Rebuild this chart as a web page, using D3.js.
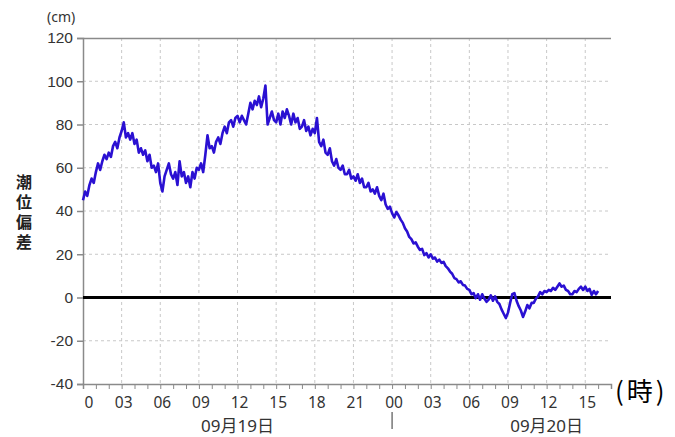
<!DOCTYPE html>
<html>
<head>
<meta charset="utf-8">
<script src="https://cdn.jsdelivr.net/npm/d3@7"></script>
<style>
  html, body { margin: 0; padding: 0; background: #fff; }
  svg { display: block; font-family: "Noto Sans", "Noto Sans CJK JP", sans-serif; }
</style>
</head>
<body>
<svg id="chart" width="675" height="437"></svg>
<script>
// Tide anomaly (cm), 10-minute samples starting 09/19 00:00
const startHour = 0;
const stepMinutes = 10;
const anomaly = [
  45, 49, 47, 52, 55, 53,
  58, 62, 59, 63, 66, 64,
  67, 65, 70, 72, 69, 74,
  77, 81, 74, 76, 73, 76,
  71, 73, 67, 69, 66, 68,
  63, 66, 60, 61, 58, 62,
  53, 49, 56, 59, 62, 57,
  55, 58, 52, 63, 56, 58,
  53, 56, 51, 58, 55, 60,
  59, 62, 58, 66, 75, 69,
  70, 67, 72, 74, 71, 76,
  79, 76, 81, 82, 79, 83,
  84, 81, 84, 82, 80, 85,
  90, 87, 91, 89, 93, 88,
  92, 98, 80, 83, 86, 82,
  81, 85, 80, 86, 83, 87,
  84, 80, 85, 81, 83, 78,
  79, 82, 77, 79, 75, 78,
  76, 83, 72, 70, 73, 67,
  66, 69, 63, 61, 64, 60,
  59, 61, 57, 57, 59, 55,
  56, 54, 57, 53, 55, 51,
  51, 53, 49, 50, 48, 51,
  47, 45, 48, 43, 41, 42,
  39, 37, 39.5, 38, 36, 34.5,
  32, 30.5, 28, 27, 25, 25.5,
  23.5, 22, 22.5, 19.6, 20.5, 18.5,
  20, 18, 18.5, 16.6, 17.5, 16,
  16.5, 14.5, 13.5, 12, 11, 9,
  8.5, 7, 7.5, 5.8, 5.5, 4,
  3.5, 1.5, 2, -0.3, 1.5, -1,
  1.5, -0.5, -2, -1, 1, -1.5,
  0.5, -2, -3, -5.5, -7.5, -9.5,
  -7, -2.5, 1.5, 2, -1.5, -4,
  -6, -9, -6.5, -3.5, -5, -2.5,
  -2.5, -0.5, 0.5, 2.5, 1.5, 3,
  2.5, 3.5, 3, 4.5, 3.5, 5,
  6.5, 5, 5.5, 3.5, 3, 1.5,
  1.5, 3, 2.5, 4, 5, 3.5,
  5, 3, 4, 1.2, 3, 1.5,
  3
];

const yTicks = [-40, -20, 0, 20, 40, 60, 80, 100, 120];
const hourTicks = [0, 3, 6, 9, 12, 15, 18, 21, 24, 27, 30, 33, 36, 39];
const hourLabels = ["0", "03", "06", "09", "12", "15", "18", "21", "00", "03", "06", "09", "12", "15"];
const dayLabels = [{ hour: 12, text: "09月19日" }, { hour: 36, text: "09月20日" }];
const dayBreaks = [24];
const hourDomain = [0, 41];

const svg = d3.select("#chart");
const x = d3.scaleLinear().domain(hourDomain).range([83, 611]);
const y = d3.scaleLinear().domain([-40, 120]).range([384, 38]);

const series = anomaly.map((v, i) => ({ h: startHour + i * stepMinutes / 60, v }));

// dashed grid
const grid = svg.append("g");
grid.selectAll("line.hg").data(yTicks.filter(t => t !== -40 && t !== 120 && t !== 0)).join("line")
  .attr("x1", x(hourDomain[0])).attr("x2", x(hourDomain[1]))
  .attr("y1", d => y(d)).attr("y2", d => y(d))
  .attr("stroke", "#c8c8c8").attr("stroke-width", 1).attr("stroke-dasharray", "3,3");
grid.selectAll("line.vg").data(hourTicks.filter(t => t > 0)).join("line")
  .attr("x1", d => x(d)).attr("x2", d => x(d))
  .attr("y1", y(120)).attr("y2", y(-40))
  .attr("stroke", "#c8c8c8").attr("stroke-width", 1).attr("stroke-dasharray", "3,3");

// top frame
svg.append("line")
  .attr("x1", x(hourDomain[0])).attr("x2", x(hourDomain[1]))
  .attr("y1", y(120) + 0.5).attr("y2", y(120) + 0.5)
  .attr("stroke", "#8a8a8a").attr("stroke-width", 1.5);

// y axis
const yAxis = svg.append("g").attr("transform", `translate(${x(0)},0)`)
  .call(d3.axisLeft(y).tickValues(yTicks).tickSize(6).tickPadding(4).tickFormat(d => String(d)));
yAxis.select(".domain").attr("stroke", "#8a8a8a").attr("stroke-width", 1.5);
yAxis.selectAll(".tick line").attr("stroke", "#8a8a8a").attr("stroke-width", 1.5);
yAxis.selectAll(".tick text").attr("fill", "#333").attr("font-size", 15.5);

// x axis with hourly minor ticks
const xAxis = svg.append("g").attr("transform", `translate(0,${y(-40)})`)
  .call(d3.axisBottom(x).tickValues(d3.range(hourDomain[0], hourDomain[1] + 1)).tickSize(5).tickFormat(""));
xAxis.select(".domain").attr("stroke", "#8a8a8a").attr("stroke-width", 1.5);
xAxis.selectAll(".tick line").attr("stroke", "#8a8a8a").attr("stroke-width", 1);

svg.append("g").selectAll("text").data(hourTicks).join("text")
  .attr("x", (d, i) => i === 0 ? x(d) + 6 : x(d) + 2)
  .attr("y", 408)
  .attr("text-anchor", "middle")
  .attr("font-size", 15.5).attr("fill", "#333")
  .text((d, i) => hourLabels[i]);

svg.append("g").selectAll("text").data(dayLabels).join("text")
  .attr("x", d => x(d.hour)).attr("y", 432)
  .attr("text-anchor", "middle")
  .attr("font-size", 17).attr("fill", "#333")
  .text(d => d.text);

svg.append("g").selectAll("line").data(dayBreaks).join("line")
  .attr("x1", d => x(d)).attr("x2", d => x(d))
  .attr("y1", 412).attr("y2", 429)
  .attr("stroke", "#333").attr("stroke-width", 1);

// zero reference line
svg.append("line")
  .attr("x1", x(hourDomain[0])).attr("x2", x(hourDomain[1]))
  .attr("y1", y(0)).attr("y2", y(0))
  .attr("stroke", "#000").attr("stroke-width", 3);

// anomaly trace
svg.append("path").datum(series)
  .attr("fill", "none")
  .attr("stroke", "#2a10d2")
  .attr("stroke-width", 2.6)
  .attr("stroke-linejoin", "round")
  .attr("d", d3.line().x(d => x(d.h)).y(d => y(d.v)));

// unit labels
svg.append("text").attr("x", 47).attr("y", 22)
  .attr("font-size", 14).attr("fill", "#333").text("(cm)");

const hourUnit = svg.append("text").attr("x", 615).attr("y", 401)
  .attr("font-size", 26).attr("fill", "#000")
  .attr("font-family", "'Noto Sans CJK JP', sans-serif");
hourUnit.append("tspan").text("(");
hourUnit.append("tspan").attr("dx", 3).text("時");
hourUnit.append("tspan").attr("dx", 3).text(")");

// vertical axis title
svg.append("text")
  .attr("x", 24).attr("y", 174)
  .attr("writing-mode", "vertical-rl")
  .attr("letter-spacing", 4)
  .attr("font-size", 16).attr("font-weight", "bold").attr("fill", "#222")
  .attr("font-family", "'Noto Sans CJK JP', sans-serif")
  .text("潮位偏差");
</script>
</body>
</html>
